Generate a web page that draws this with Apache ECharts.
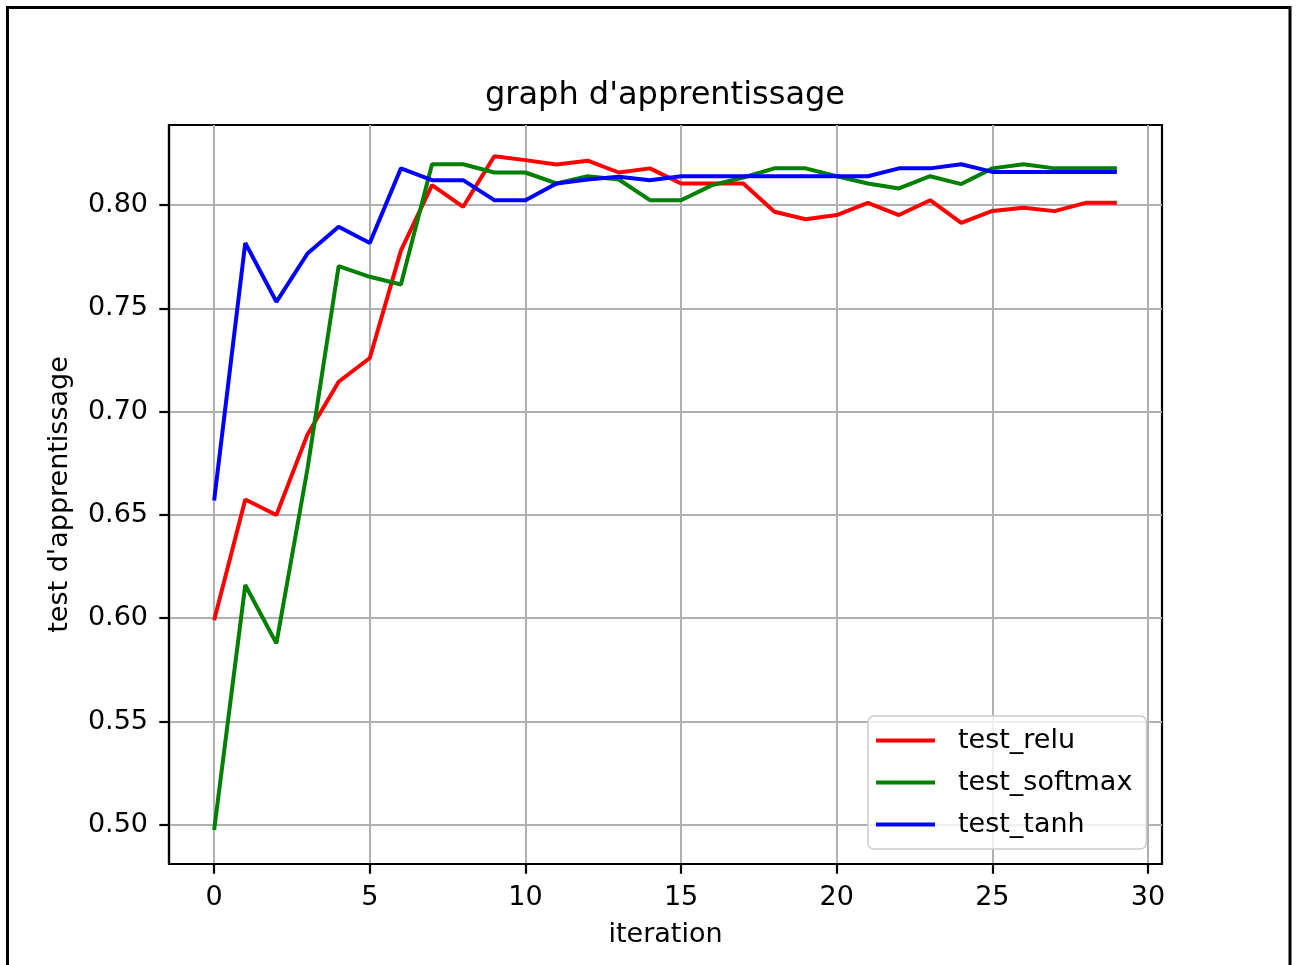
<!DOCTYPE html>
<html>
<head>
<meta charset="utf-8">
<script src="https://cdn.jsdelivr.net/npm/echarts@6/dist/echarts.min.js"></script>
<style>
html,body{margin:0;padding:0;background:#fff;}
#chart{width:1296px;height:965px;}
</style>
</head>
<body>
<div id="chart"></div>
<script>
const iterations = [0,1,2,3,4,5,6,7,8,9,10,11,12,13,14,15,16,17,18,19,20,21,22,23,24,25,26,27,28,29];
const testRelu = [0.599,0.6575,0.650,0.689,0.7145,0.726,0.778,0.8097,0.7992,0.8237,0.8218,0.8197,0.8215,0.8158,0.8178,0.8105,0.8105,0.8105,0.7968,0.7932,0.7952,0.8011,0.7952,0.8024,0.7914,0.7972,0.7987,0.7971,0.8011,0.8011];
const testSoftmax = [0.4975,0.6161,0.5878,0.6725,0.7705,0.7653,0.7616,0.8198,0.8198,0.8158,0.8158,0.8105,0.8140,0.8124,0.8024,0.8024,0.8097,0.8134,0.8178,0.8178,0.8140,0.8105,0.8081,0.8140,0.8102,0.8178,0.8198,0.8178,0.8178,0.8178];
const testTanh = [0.657,0.7817,0.7532,0.7766,0.7895,0.7817,0.8178,0.8121,0.8121,0.8024,0.8024,0.8105,0.8124,0.8137,0.8121,0.8140,0.8140,0.8140,0.8140,0.8140,0.8140,0.8140,0.8178,0.8178,0.8198,0.8161,0.8161,0.8161,0.8161,0.8161];
const xTicks = [0,5,10,15,20,25,30];
const yTicks = [0.50,0.55,0.60,0.65,0.70,0.75,0.80];
const seriesNames = ['test_relu','test_softmax','test_tanh'];
const titleText = "graph d'apprentissage";
const xLabel = 'iteration';
const yLabel = "test d'apprentissage";

const FONT = 'DejaVu Sans';
const chart = echarts.init(document.getElementById('chart'), null, {renderer:'canvas'});
function pairs(arr){ return iterations.map((x,i)=>[x,arr[i]]); }
const colors = ['#ff0000','#008000','#0000ff'];
const datas = [testRelu,testSoftmax,testTanh];

chart.setOption({
  animation:false,
  backgroundColor:'#ffffff',
  textStyle:{fontFamily:FONT,color:'#000'},
  graphic:[
    {type:'rect',shape:{x:7.5,y:7.5,width:1282.5,height:975},style:{fill:'none',stroke:'#000',lineWidth:3},silent:true,z:100},
    {type:'text',x:665,y:96,style:{text:titleText,font:'32px "DejaVu Sans"',fill:'#000',align:'center',verticalAlign:'middle'},silent:true}
  ],
  grid:{left:169,top:125,width:993,height:739,show:true,borderColor:'#000',borderWidth:2.2,backgroundColor:'transparent',containLabel:false},
  xAxis:{
    type:'value',min:-1.45,max:30.45,
    name:xLabel,nameLocation:'middle',nameGap:57,
    nameTextStyle:{fontSize:27,color:'#000',fontFamily:FONT},
    axisLine:{show:true,onZero:false,lineStyle:{color:'#000',width:2.2}},
    axisTick:{show:true,inside:false,length:9.7,lineStyle:{color:'#000',width:2.2},customValues:xTicks},
    axisLabel:{show:true,fontSize:27,color:'#000',fontFamily:FONT,margin:20,customValues:xTicks,formatter:v=>String(Math.round(v))},
    splitLine:{show:true,lineStyle:{color:'#b0b0b0',width:2}}
  },
  yAxis:{
    type:'value',min:0.481,max:0.8388,
    name:yLabel,nameLocation:'middle',nameGap:96,nameRotate:90,
    nameTextStyle:{fontSize:27,color:'#000',fontFamily:FONT},
    axisLine:{show:true,onZero:false,lineStyle:{color:'#000',width:2.2}},
    axisTick:{show:true,inside:false,length:9.7,lineStyle:{color:'#000',width:2.2},customValues:yTicks},
    axisLabel:{show:true,fontSize:27,color:'#000',fontFamily:FONT,margin:21,customValues:yTicks,formatter:v=>v.toFixed(2)},
    splitLine:{show:true,lineStyle:{color:'#b0b0b0',width:2}}
  },
  legend:{
    show:true,orient:'vertical',left:868,top:716,
    padding:[11,14,11,8],itemGap:15,itemWidth:59,itemHeight:4,
    icon:'rect',
    backgroundColor:'rgba(255,255,255,0.8)',borderColor:'#cccccc',borderWidth:1.5,borderRadius:6,
    textStyle:{fontSize:27,color:'#000',fontFamily:FONT,padding:[0,0,0,18]},
    data:seriesNames
  },
  series:seriesNames.map((n,k)=>({
    name:n,type:'line',data:pairs(datas[k]),
    showSymbol:false,symbol:'none',
    lineStyle:{color:colors[k],width:4},
    itemStyle:{color:colors[k]},
    z:2+k
  }))
});
</script>
</body>
</html>
